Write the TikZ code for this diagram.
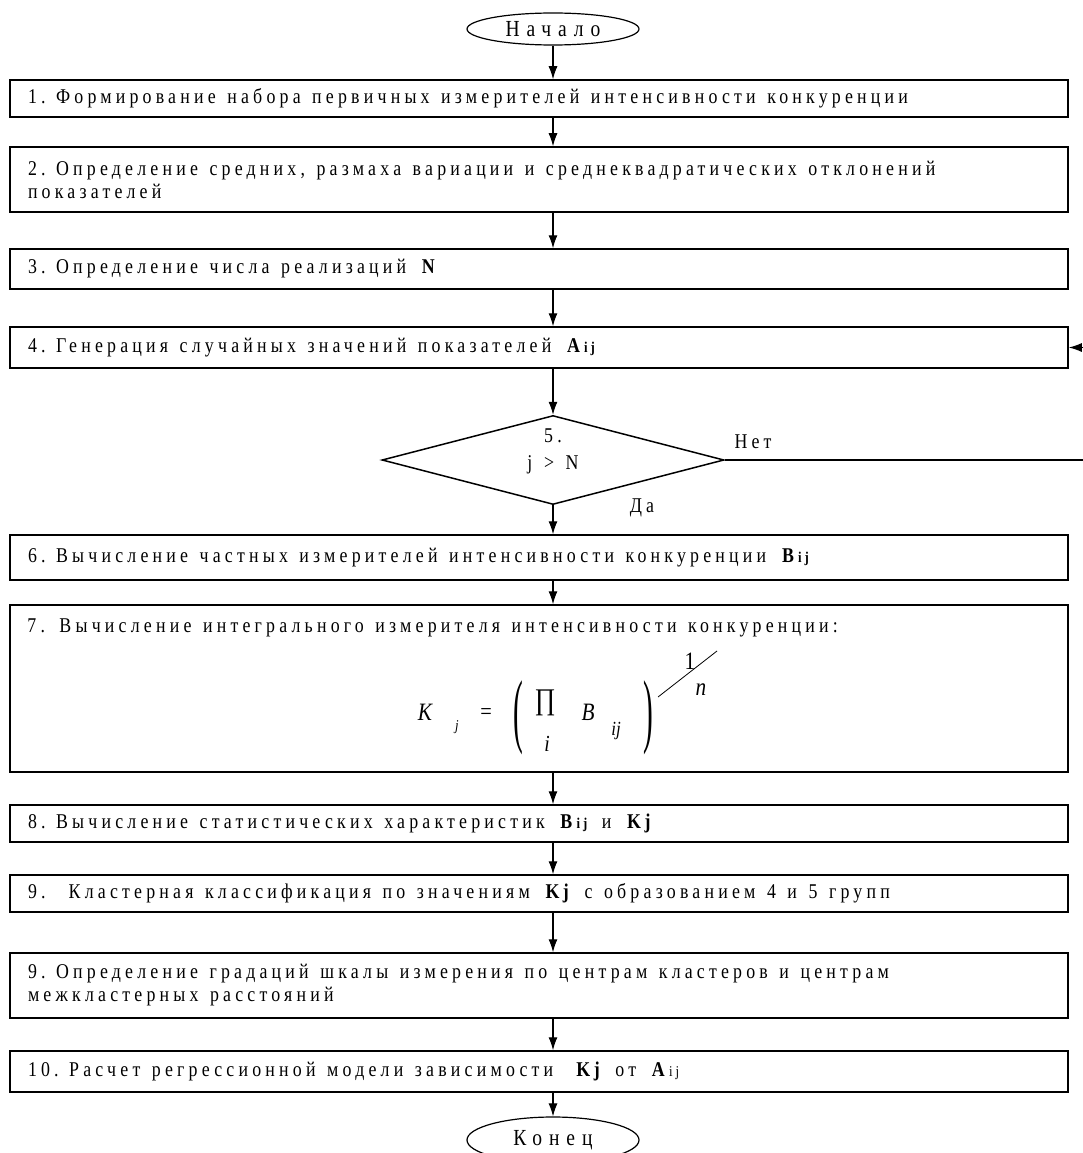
\documentclass[tikz,border=0pt]{standalone}
\usepackage{fontspec}
\setmainfont{Liberation Serif}
\newfontfamily\boxfont[FakeStretch=0.85,LetterSpace=20]{Liberation Serif}
\newfontfamily\termfont[FakeStretch=0.85,LetterSpace=30]{Liberation Serif}
\newfontfamily\formfont[FakeStretch=0.85]{Liberation Serif}
\usetikzlibrary{shapes.geometric,arrows.meta}
\newcommand{\ind}[2]{\textbf{#1}{\fontsize{15pt}{15pt}\selectfont\textbf{#2}}}
\newcommand{\bigpar}[1]{\scalebox{0.42}[1]{\fontsize{82pt}{82pt}\selectfont #1}}
\tikzset{
  wide/.style={execute at begin node={\spaceskip=0.55em plus 0.05em\relax}},
  stepbox/.style={draw, line width=1.5pt, inner xsep=18pt, inner ysep=4pt,
    text width=1022pt, align=left, wide, font=\boxfont\fontsize{21pt}{23pt}\selectfont},
  termbox/.style={draw, ellipse, line width=1.2pt, minimum width=172pt,
    minimum height=32pt, inner sep=0pt, font=\termfont\fontsize{23pt}{24pt}\selectfont},
  lbl/.style={inner sep=0pt, wide, font=\boxfont\fontsize{21pt}{24pt}\selectfont},
  frm/.style={inner sep=0pt, font=\formfont\itshape\fontsize{25pt}{25pt}\selectfont},
  arr/.style={line width=1.1pt, -{Latex[length=13pt,width=9pt]}}
}
\begin{document}
\begin{tikzpicture}[x=1pt, y=-1pt]
\useasboundingbox (0,0) rectangle (1082,1153);

\coordinate (c) at (553,0);

\node[termbox] (s) at (553,29) {Начало};

\node[stepbox, minimum height=37pt] (n1) at (539,98.5)
  {1. Формирование набора первичных измерителей интенсивности конкуренции};

\node[stepbox, minimum height=65pt] (n2) at (539,179.5)
  {2. Определение средних, размаха вариации и среднеквадратических отклонений\\
   показателей};

\node[stepbox, minimum height=40pt] (n3) at (539,269)
  {3. Определение числа реализаций \textbf{N}};

\node[stepbox, minimum height=41pt] (n4) at (539,347.5)
  {4. Генерация случайных значений показателей \ind{A}{ij}};

\node[draw, diamond, line width=1.5pt, minimum width=342pt, minimum height=89pt,
  inner sep=0pt] (d) at (553,460) {};
\node[lbl, align=center] (t5) at (553,451) {5.\\[3pt] j > N};

\node[lbl] (no) at (753,442) {Нет};
\node[lbl] (yes) at (642,508) {Да};

\node[stepbox, minimum height=45pt] (n6) at (539,557.5)
  {6. Вычисление частных измерителей интенсивности конкуренции \ind{B}{ij}};

\node[draw, line width=1.5pt, minimum width=1058pt, minimum height=167pt,
  inner sep=0pt] (n7) at (539,688.5) {};
\node[lbl, anchor=north west] (t7) at ([xshift=18pt,yshift=-14pt]n7.north west)
  {7. Вычисление интегрального измерителя интенсивности конкуренции:};

% formula
\node[frm] (fk) at (425,712) {К};
\node[frm, font=\formfont\itshape\fontsize{15pt}{15pt}\selectfont] (fj) at (457,727) {j};
\node[frm, font=\formfont\fontsize{24pt}{24pt}\selectfont] (feq) at (486,714) {=};
\node[frm, font=\formfont] (fl) at (518,718) {\bigpar{(}};
\node[frm, font=\formfont\fontsize{30pt}{30pt}\selectfont] (fp) at (545,703) {∏};
\node[frm, font=\formfont\itshape\fontsize{23pt}{23pt}\selectfont] (fi) at (547,744) {i};
\node[frm] (fb) at (588,712) {B};
\node[frm, font=\formfont\itshape\fontsize{20pt}{20pt}\selectfont] (fij) at (616,731) {ij};
\node[frm, font=\formfont] (fr) at (648,718) {\bigpar{)}};
\node[frm, font=\formfont\fontsize{25pt}{25pt}\selectfont] (f1) at (690,661) {1};
\node[frm, font=\formfont\itshape\fontsize{25pt}{25pt}\selectfont] (fn) at (701,690) {n};
\coordinate (sl1) at (658,697);
\coordinate (sl2) at (717,651);
\draw[line width=0.8pt] (sl1) -- (sl2);

\node[stepbox, minimum height=37pt] (n8) at (539,823.5)
  {8. Вычисление статистических характеристик \ind{B}{ij} и \textbf{K\,j}};

\node[stepbox, minimum height=37pt] (n9) at (539,893.5)
  {9.\ \ Кластерная классификация по значениям \textbf{K\,j} с образованием 4 и 5 групп};

\node[stepbox, minimum height=65pt] (n9b) at (539,985.5)
  {9. Определение градаций шкалы измерения по центрам кластеров и центрам\\
   межкластерных расстояний};

\node[stepbox, minimum height=41pt] (n10) at (539,1071.5)
  {10. Расчет регрессионной модели зависимости \ \textbf{K\,j} от \textbf{A}{\fontsize{15pt}{15pt}\selectfont ij}};

\node[termbox, minimum height=46pt] (e) at (553,1140) {Конец};

% connectors
\draw[arr] (s.south) -- (c |- n1.north);
\draw[arr] (c |- n1.south) -- (c |- n2.north);
\draw[arr] (c |- n2.south) -- (c |- n3.north);
\draw[arr] (c |- n3.south) -- (c |- n4.north);
\draw[arr] (c |- n4.south) -- (d.north);
\draw[arr] (d.south) -- (c |- n6.north);
\draw[arr] (c |- n6.south) -- (c |- n7.north);
\draw[arr] (c |- n7.south) -- (c |- n8.north);
\draw[arr] (c |- n8.south) -- (c |- n9.north);
\draw[arr] (c |- n9.south) -- (c |- n9b.north);
\draw[arr] (c |- n9b.south) -- (c |- n10.north);
\draw[arr] (c |- n10.south) -- (e.north);

\coordinate (r) at (1084,460);
\draw[arr] (d.east) -- (r) |- (n4.east);
\end{tikzpicture}
\end{document}
